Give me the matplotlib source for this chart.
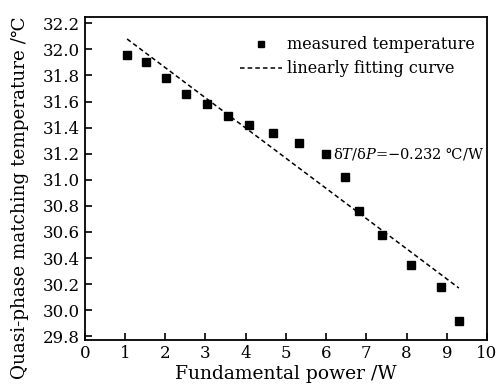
import numpy as np
import matplotlib.pyplot as plt

plt.rcParams['font.family'] = ['DejaVu Serif']
plt.rcParams['mathtext.fontset'] = 'dejavuserif'

# measured points
power = [1.05, 1.52, 2.02, 2.52, 3.03, 3.57, 4.08, 4.67, 5.33, 6.00, 6.47, 6.81, 7.39, 8.11, 8.85, 9.30]
temp = [31.96, 31.90, 31.78, 31.66, 31.58, 31.49, 31.42, 31.36, 31.28, 31.20, 31.02, 30.76, 30.58, 30.35, 30.18, 29.92]

# ends of the fitted line
fit_x = [1.05, 9.30]
fit_y = [32.08, 30.17]

xticks = list(range(0, 11))
yticks = [29.8, 30.0, 30.2, 30.4, 30.6, 30.8, 31.0, 31.2, 31.4, 31.6, 31.8, 32.0, 32.2]

fig = plt.figure(figsize=(4.99, 3.91), dpi=100)
ax = fig.add_axes([0.170, 0.130, 0.806, 0.827])

ax.plot(power, temp, 's', color='black', ms=6, label='measured temperature')
ax.plot(fit_x, fit_y, '--', color='black', lw=1.1, dashes=(3, 2), label='linearly fitting curve')

ax.text(6.18, 31.2, r'$\mathrm{\delta}T/\mathrm{\delta}P$=−0.232 ℃/W', fontsize=10.5, va='center')

ax.set_xlim(0, 10)
ax.set_ylim(29.77, 32.25)
ax.set_xticks(xticks)
ax.set_yticks(yticks)
ax.set_yticklabels([f'{v:.1f}' for v in yticks])
ax.tick_params(direction='in', length=5, width=1.2, labelsize=12, top=False, right=False)
for s in ax.spines.values():
    s.set_linewidth(1.3)

ax.set_xlabel('Fundamental power /W', fontsize=13.5, labelpad=2)
ax.set_ylabel('Quasi-phase matching temperature /℃', fontsize=13.2)
ax.yaxis.set_label_coords(-0.14, 0.44)

leg = ax.legend(loc='upper left', bbox_to_anchor=(0.37, 0.96), frameon=False, fontsize=11.5,
                handlelength=2.6, borderaxespad=0.0, handletextpad=0.35, labelspacing=0.45,
                markerscale=0.75)

fig.savefig('out.png', dpi=100)
